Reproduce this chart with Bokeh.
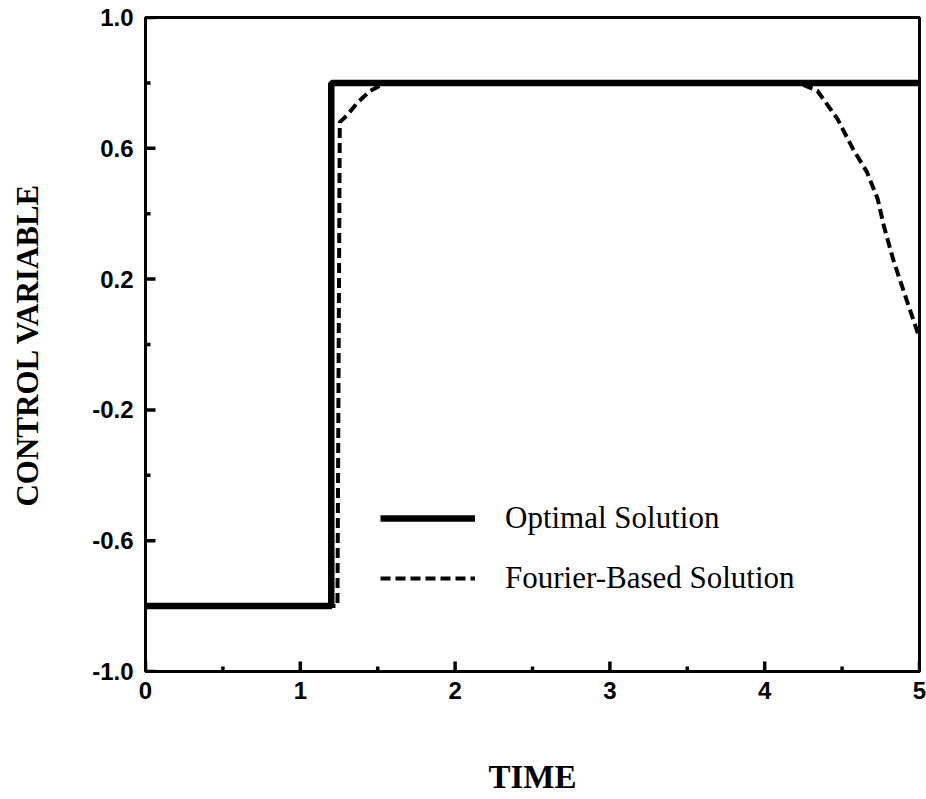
from bokeh.plotting import figure
from bokeh.models import FixedTicker, Legend, LegendItem, Range1d
from bokeh.embed import file_html
from bokeh.resources import INLINE

# Data
optimal_t = [0.0, 1.2, 1.2, 5.0]
optimal_u = [-0.8, -0.8, 0.8, 0.8]

fourier_t = [0.0, 1.24, 1.255, 1.30, 1.37, 1.45, 1.55, 4.22, 4.34, 4.47,
             4.57, 4.66, 4.73, 4.77, 4.83, 4.90, 5.0]
fourier_u = [-0.8, -0.8, 0.68, 0.70, 0.74, 0.775, 0.80, 0.80, 0.776, 0.69,
             0.598, 0.528, 0.445, 0.362, 0.26, 0.16, 0.02]

x_major = [0, 1, 2, 3, 4, 5]
x_minor = [0.5, 1.5, 2.5, 3.5, 4.5]
y_major = [-1.0, -0.6, -0.2, 0.2, 0.6, 1.0]
y_minor = [-0.8, -0.4, 0.0, 0.4, 0.8]
y_labels = {-1.0: "-1.0", -0.6: "-0.6", -0.2: "-0.2", 0.2: "0.2", 0.6: "0.6", 1.0: "1.0"}

X0, X1, Y0, Y1 = 0, 5, -1, 1
FRAME_W, FRAME_H = 774, 654
dx_major = 10 * (X1 - X0) / FRAME_W   # 10 px inward tick
dx_minor = 5 * (X1 - X0) / FRAME_W
dy_major = 10 * (Y1 - Y0) / FRAME_H
dy_minor = 5 * (Y1 - Y0) / FRAME_H

p = figure(width=926, height=799, output_backend="svg", toolbar_location=None,
           x_range=Range1d(X0, X1), y_range=Range1d(Y0, Y1),
           min_border_left=145, min_border_right=7, min_border_top=17,
           min_border_bottom=128)
p.xgrid.visible = False
p.ygrid.visible = False
p.outline_line_color = "black"
p.outline_line_width = 3
p.background_fill_color = "white"
p.border_fill_color = "white"

for ax in (p.xaxis[0], p.yaxis[0]):
    ax.axis_line_width = 3
    ax.axis_line_color = "black"
    ax.major_tick_in = 0
    ax.major_tick_out = 0
    ax.minor_tick_in = 0
    ax.minor_tick_out = 0
    ax.major_label_text_font = "Liberation Sans"
    ax.major_label_text_font_style = "bold"
    ax.major_label_text_font_size = "24px"
    ax.major_label_text_color = "black"
    ax.axis_label_text_font = "Liberation Serif"
    ax.axis_label_text_font_style = "bold"
    ax.axis_label_text_color = "black"

p.xaxis.ticker = FixedTicker(ticks=x_major, minor_ticks=x_minor)
p.yaxis.ticker = FixedTicker(ticks=y_major, minor_ticks=y_minor)
p.yaxis.major_label_overrides = y_labels
p.xaxis.major_label_standoff = 10
p.yaxis.major_label_standoff = 12
p.xaxis.axis_label = "TIME"
p.yaxis.axis_label = "CONTROL VARIABLE"
p.xaxis.axis_label_text_font_size = "33px"
p.yaxis.axis_label_text_font_size = "31px"
p.xaxis.axis_label_standoff = 57
p.yaxis.axis_label_standoff = 44

# inward tick marks
p.segment(x0=[X0] * len(y_major), y0=y_major, x1=[X0 + dx_major] * len(y_major), y1=y_major,
          line_width=3.5, line_color="black")
p.segment(x0=[X0] * len(y_minor), y0=y_minor, x1=[X0 + dx_minor] * len(y_minor), y1=y_minor,
          line_width=3.5, line_color="black")
p.segment(x0=x_major, y0=[Y0] * len(x_major), x1=x_major, y1=[Y0 + dy_major] * len(x_major),
          line_width=3.5, line_color="black")
p.segment(x0=x_minor, y0=[Y0] * len(x_minor), x1=x_minor, y1=[Y0 + dy_minor] * len(x_minor),
          line_width=3.5, line_color="black")

r_opt = p.line(optimal_t, optimal_u, line_color="black", line_width=6.5)
r_four = p.line(fourier_t, fourier_u, line_color="black", line_width=4, line_dash="10 5")

legend = Legend(items=[LegendItem(label="Optimal Solution", renderers=[r_opt]),
                       LegendItem(label="Fourier-Based Solution", renderers=[r_four])],
                location=(235, 75), glyph_width=95, glyph_height=30, label_height=30,
                spacing=24, padding=0, margin=0, label_standoff=30,
                border_line_color=None, background_fill_alpha=0,
                label_text_font="Liberation Serif", label_text_font_size="31px",
                label_text_color="black")
p.add_layout(legend)

open("out.html", "w").write(file_html(p, INLINE))
